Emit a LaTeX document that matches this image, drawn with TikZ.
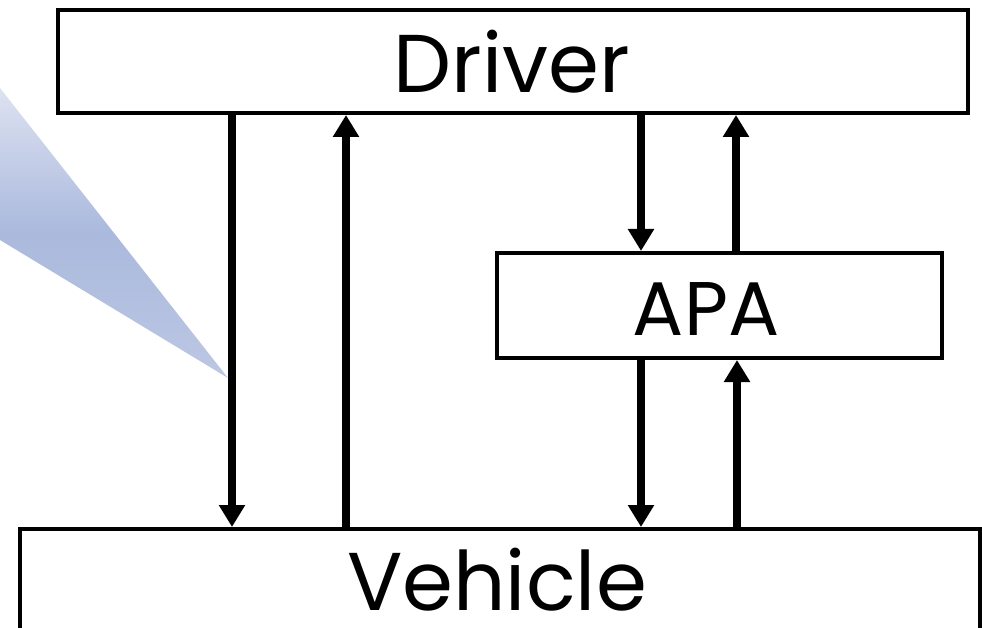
\documentclass[tikz,border=0pt]{standalone}
\usepackage{fontspec}
\setmainfont{Poppins}
\usetikzlibrary{arrows.meta}
\definecolor{triTop}{HTML}{DEE2F1}
\definecolor{triMid}{HTML}{AAB9DD}
\definecolor{triBot}{HTML}{BCC7E3}
\tikzset{
  box/.style={draw=black, line width=4pt, fill=white, inner sep=0pt},
  lbl/.style={inner sep=0pt, anchor=base},
  flow/.style={line width=7.5pt, -{Triangle[length=22pt,width=25pt]}}
}
\begin{document}
\begin{tikzpicture}[x=1pt,y=-1pt]
\useasboundingbox (0,0) rectangle (982,628);
\shade[top color=triTop, bottom color=triBot, middle color=triMid] (0,88) -- (228,378) -- (0,240) -- cycle;
\node[box, minimum width=910pt, minimum height=103pt] (driver) at (513,61.5) {};
\node[box, minimum width=445pt, minimum height=105pt] (apa) at (719.5,305.5) {};
\node[box, minimum width=960pt, minimum height=140pt, anchor=north west] (vehicle) at (18,527) {};
\node[lbl, font=\fontsize{82}{82}\selectfont] (driverlbl) at (512,93) {Driver};
\node[lbl, font=\fontsize{76}{76}\selectfont] (apalbl) at (706,335) {APA};
\node[lbl, font=\fontsize{82}{82}\selectfont] (vehiclelbl) at (497,610) {Vehicle};
\draw[flow] (driver.south -| 232,0) -- (vehicle.north -| 232,0);
\draw[flow] (vehicle.north -| 346,0) -- (driver.south -| 346,0);
\draw[flow] (driver.south -| 641,0) -- (apa.north -| 641,0);
\draw[flow] (apa.north -| 736,0) -- (driver.south -| 736,0);
\draw[flow] (apa.south -| 641,0) -- (vehicle.north -| 641,0);
\draw[flow] (vehicle.north -| 737,0) -- (apa.south -| 737,0);
\end{tikzpicture}
\end{document}
